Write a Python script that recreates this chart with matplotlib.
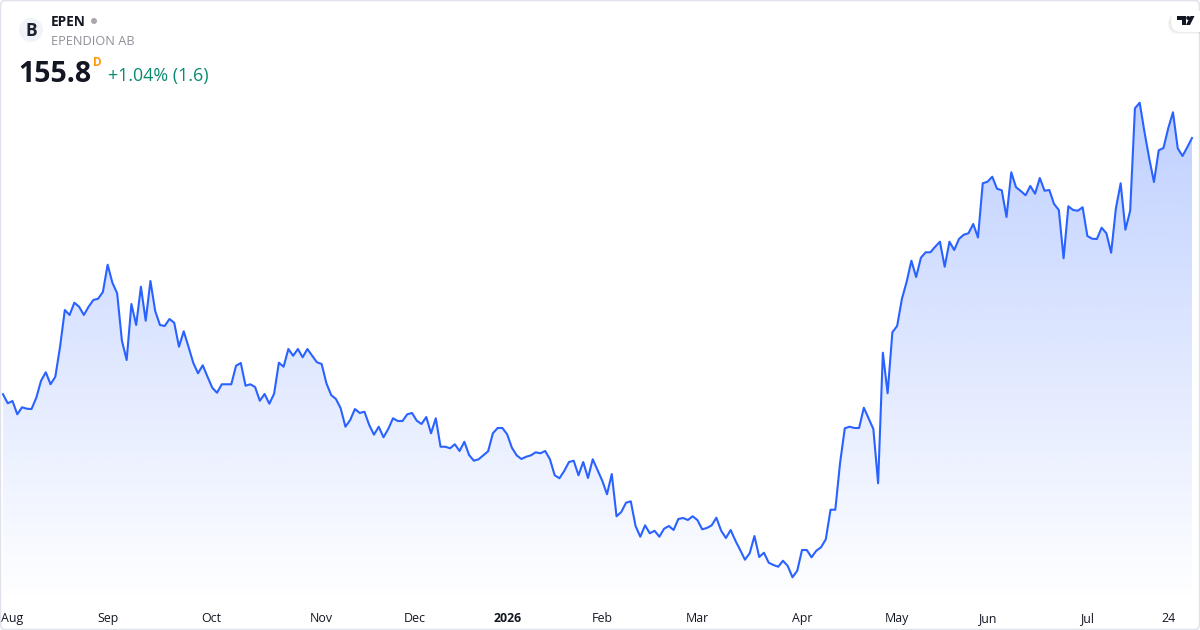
import numpy as np
import matplotlib
matplotlib.use("Agg")
import matplotlib.pyplot as plt
from matplotlib.colors import ListedColormap
from matplotlib.patches import Circle, FancyBboxPatch, Polygon

plt.rcParams["font.family"] = ["Open Sans", "DejaVu Sans"]

# 收盘价，按交易日读图估算
close = [
    109.67, 108.05, 108.46, 106.07, 107.33, 107.07, 107.02, 109.05, 112.11, 113.63,
    111.47, 112.83, 118.23, 124.84, 123.94, 126.15, 125.43, 123.94, 125.43, 126.64,
    126.87, 128.08, 132.99, 129.75, 127.85, 119.31, 115.84, 125.92, 122.14, 129.03,
    122.91, 130.06, 124.66, 122.14, 121.96, 123.22, 122.55, 118.23, 121.01, 118.23,
    115.35, 113.45, 114.89, 112.83, 110.85, 109.95, 111.47, 111.47, 111.47, 114.81,
    115.30, 111.21, 111.47, 110.98, 108.51, 109.72, 107.97, 109.77, 115.35, 114.63,
    117.82, 116.61, 117.82,
    116.33, 117.82, 116.61, 115.43, 115.12, 111.65, 109.54, 108.82, 107.15, 103.83,
    105.04, 107.02, 106.30, 106.53, 104.14, 102.40, 103.83, 101.93, 103.42, 105.35,
    104.86, 104.86, 106.07, 106.30, 104.91, 104.32, 105.58, 102.65, 105.35, 100.23,
    100.23, 99.95, 100.67, 99.46, 101.13, 98.74, 97.71, 97.97, 98.68, 99.41,
    102.65, 103.60, 103.60, 102.47, 100.05, 98.68, 98.02, 98.43, 98.68, 99.23,
    99.05, 99.46, 97.97, 95.09, 94.55, 95.86, 97.48, 97.71, 95.09, 97.48,
    94.60, 97.97, 96.04,
    94.11, 91.67, 95.32, 87.71, 88.48, 90.15, 90.40, 85.96, 84.03, 86.08,
    84.65, 85.11, 84.03, 85.47, 85.96, 85.24, 87.22, 87.40, 87.04, 87.71,
    87.04, 85.37, 85.60, 86.08, 87.45, 85.11, 83.80, 85.24, 83.31, 81.64,
    79.89, 81.05, 84.16, 80.38, 81.15, 79.35, 78.94, 78.63, 79.71, 78.76,
    76.73, 77.91, 81.64, 81.64, 80.33, 81.51, 82.13, 83.57, 88.89, 88.89,
    97.30, 103.55, 103.83, 103.60, 103.60, 107.25, 105.35, 103.42, 93.65, 117.15,
    109.85, 120.83, 121.96, 126.82, 129.93, 133.71, 130.78, 134.25, 135.23, 135.23,
    136.23, 137.13, 132.63, 137.13, 135.64, 137.62, 138.39, 138.65, 140.32, 137.89,
    147.65, 147.93, 148.83, 146.67, 146.39, 141.58, 149.63, 146.93, 146.26, 145.49,
    147.16, 145.77, 148.60, 146.31, 146.44, 143.92, 142.84, 134.15, 143.51, 142.84,
    142.71, 143.33, 138.16, 137.67, 137.62, 139.65, 138.65, 135.15, 143.15, 147.65,
    139.29, 142.71, 161.15, 162.15, 156.93, 152.15, 147.88, 153.59, 154.00, 157.55,
    160.43, 153.95, 152.56, 154.13, 155.80,
]
tick_labels = ["Aug", "Sep", "Oct", "Nov", "Dec", "2026", "Feb", "Mar", "Apr", "May", "Jun", "Jul", "24"]
tick_idx = [-0.4, 22, 43.8, 67, 86.6, 106, 126, 146, 168, 187.9, 207, 227.9, 245]

LINE = "#2962FF"
W, H = 1200, 630
PANE_H = 603

close = np.array(close)
x = np.arange(len(close))

fig = plt.figure(figsize=(12, 6.3), dpi=100, facecolor="white")
ax = fig.add_axes([0, (H - PANE_H) / H, 1, PANE_H / H])

# 左右留白按像素换算
step = (1192 - 3) / (len(close) - 1)
xlim = (-3 / step, (W - 3) / step)
ylim = (180.64 - 0.18 * PANE_H, 180.64)

# 渐变填充：imshow 再用面积路径裁剪
grad = np.zeros((256, 4))
grad[:, :3] = matplotlib.colors.to_rgb(LINE)
grad[:, 3] = np.linspace(0.0, 0.30, 256)
poly = ax.fill_between(x, close, ylim[0], color="none", lw=0)
img = ax.imshow(np.linspace(0, 1, 256)[:, None], cmap=ListedColormap(grad), origin="lower",
                aspect="auto", extent=(x[0], x[-1], ylim[0], close.max()), vmin=0, vmax=1, zorder=1)
img.set_clip_path(poly.get_paths()[0], transform=ax.transData)
ax.plot(x, close, color=LINE, lw=1.5, solid_joinstyle="round", zorder=2)

ax.set_xlim(xlim)
ax.set_ylim(ylim)
ax.set_yticks([])
ax.set_xticks(tick_idx, tick_labels)
ax.tick_params(axis="x", length=0, pad=13.4, labelsize=8.9, labelcolor="#131722")
for s in ax.spines.values():
    s.set_visible(False)
for lab in ax.get_xticklabels():
    lab.set_va("baseline")
tl = ax.get_xticklabels()
tl[0].set_ha("left")
tl[5].set_fontweight("bold")
ax.patch.set_alpha(0)

# 顶层叠一层像素坐标，放图例头和 logo
ov = fig.add_axes([0, 0, 1, 1], facecolor="none")
ov.set_xlim(0, W)
ov.set_ylim(H, 0)
ov.axis("off")

ov.add_patch(FancyBboxPatch((0.5, 0.5), W - 1, H - 1, boxstyle="round,pad=0,rounding_size=5",
                            fc="none", ec="#E0E3EB", lw=1.1))
ov.add_patch(Circle((31, 30), 12, fc="#F0F3FA", ec="none"))
ov.text(31, 31.5, "B", ha="center", va="center", fontsize=12.5, fontweight="bold", color="#1E222D")
ov.text(51, 22, "EPEN", ha="left", va="center", fontsize=9.8, fontweight="bold", color="#131722")
ov.add_patch(Circle((94, 21), 3, fc="#A8A8A8", ec="none"))
ov.text(51, 41.5, "EPENDION AB", ha="left", va="center", fontsize=9.2, color="#8E9199")
ov.text(18.5, 74.5, "155.8", ha="left", va="center", fontsize=20.5, fontweight="bold", color="#131722")
ov.text(93, 62, "D", ha="left", va="center", fontsize=8.5, fontweight="bold", color="#FF9800")
ov.text(108, 76, "+1.04% (1.6)", ha="left", va="center", fontsize=12.9, color="#0B8A72")

# TradingView 角标
for i, a in enumerate([0.02, 0.03, 0.04]):
    ov.add_patch(FancyBboxPatch((1170 - i, 12 + i), 40, 20, boxstyle="round,pad=0,rounding_size=10",
                                fc="black", ec="none", alpha=a))
ov.add_patch(FancyBboxPatch((1171, 11), 40, 21, boxstyle="round,pad=0,rounding_size=10", fc="white", ec="none"))
ov.add_patch(Polygon([(1177, 16), (1186, 16), (1186, 25), (1182, 25), (1182, 20), (1177, 20)], fc="#131722", ec="none"))
ov.add_patch(Circle((1188.2, 18), 2, fc="#131722", ec="none"))
ov.add_patch(Polygon([(1190.5, 16), (1194.5, 16), (1190, 25), (1186, 25)], fc="#131722", ec="none"))
ov.set_xlim(0, W)
ov.set_ylim(H, 0)

fig.savefig("out.png", dpi=100)
plt.close()
